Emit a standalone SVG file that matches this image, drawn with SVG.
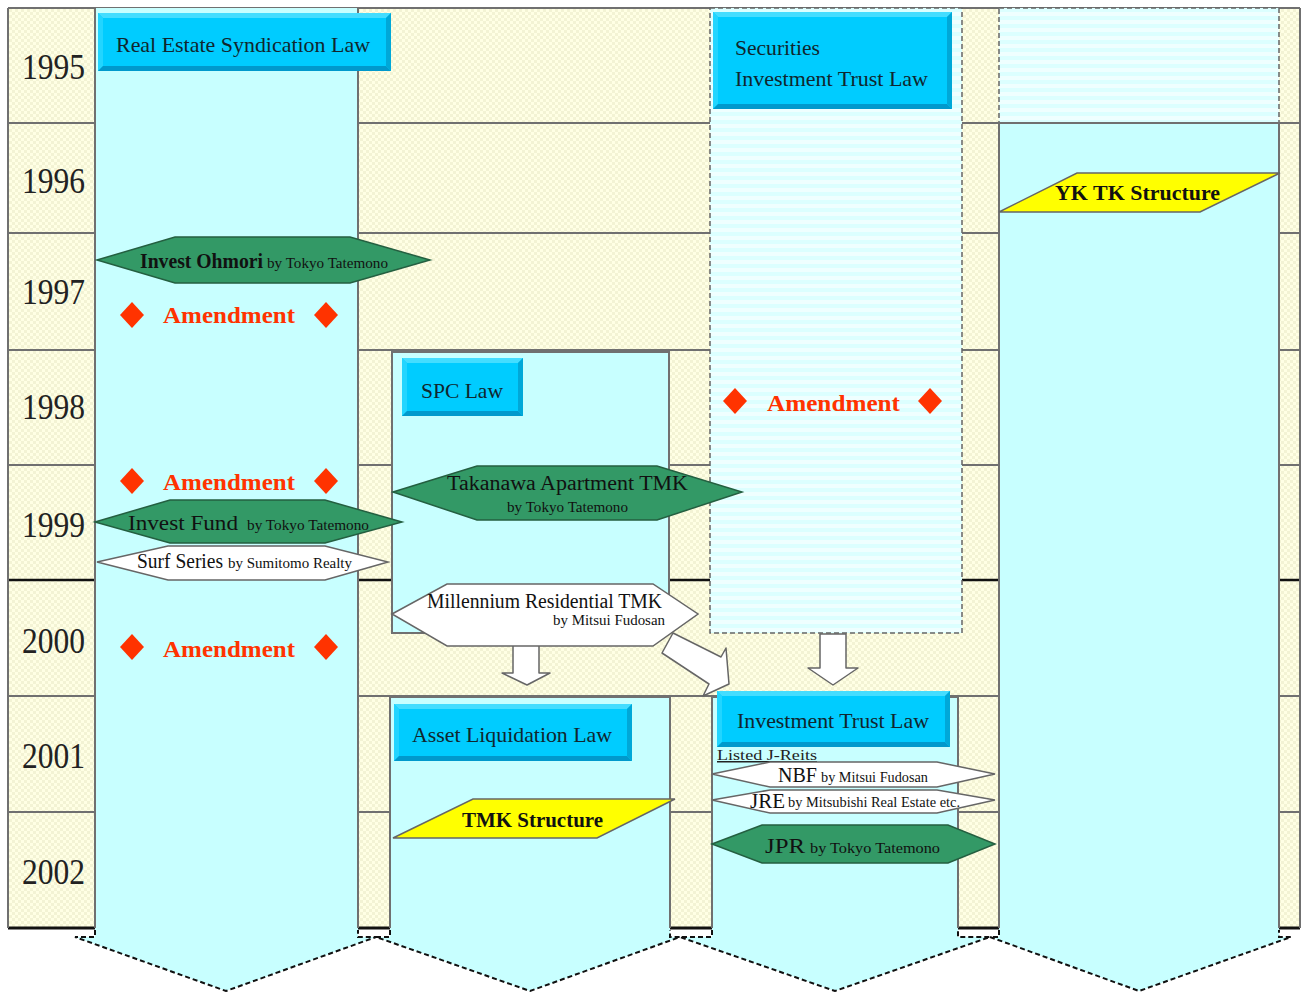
<svg xmlns="http://www.w3.org/2000/svg" width="1302" height="992" viewBox="0 0 1302 992">
<defs>
<pattern id="cream" width="6" height="6" patternUnits="userSpaceOnUse"><rect width="6" height="6" fill="#FFFFE4"/><rect width="3" height="3" fill="#F3F3D4"/><rect x="3" y="3" width="3" height="3" fill="#F3F3D4"/></pattern>
<pattern id="stripes" width="8" height="8" patternUnits="userSpaceOnUse"><rect width="8" height="8" fill="#EFFFFF"/><rect width="8" height="4" fill="#DCFFFF"/></pattern>
<style>
text{font-family:"Liberation Serif","Times New Roman",serif}
.yr{font-size:36px;fill:#222}
.law{font-size:22px;fill:#10262e}
.hx{font-size:20px;fill:#111}
.by{font-size:14px;fill:#111}
.amd{font-size:23px;font-weight:bold;fill:#FF3300}
.st{font-size:21px;font-weight:bold;fill:#111}
.row{stroke:#707070;stroke-width:2}
.col{fill:#C8FFFF}
.edge{stroke:#707070;stroke-width:2;fill:none}
.head{stroke:#111;stroke-width:2;stroke-dasharray:5 3;fill:none}
.dash{fill:url(#stripes);stroke:#666;stroke-width:1.5;stroke-dasharray:5 3}
.bm{fill:#00CCFF}
.bt{fill:#44DDFF}
.bl{fill:#22D5FF}
.bb{fill:#0099CC}
.br{fill:#00A8D8}
.green{fill:#339966;stroke:#245f40;stroke-width:1.5}
.white{fill:#FFFFFF;stroke:#666;stroke-width:1.5}
.yel{fill:#FFFF00;stroke:#666;stroke-width:1.5}
.dia{fill:#FF3300}
.blk{fill:#FFFFFF;stroke:#666;stroke-width:1.5;stroke-linejoin:round}
</style>
</defs>
<rect width="1302" height="992" fill="#FFFFFF"/>
<g id="table">
<rect x="8" y="8" width="1292" height="920" fill="url(#cream)"/>
<line class="row" x1="8" y1="8" x2="1300" y2="8"/>
<line class="row" x1="8" y1="123" x2="1300" y2="123"/>
<line class="row" x1="8" y1="233" x2="1300" y2="233"/>
<line class="row" x1="8" y1="350" x2="1300" y2="350"/>
<line class="row" x1="8" y1="465" x2="1300" y2="465"/>
<line x1="8" y1="580" x2="1300" y2="580" stroke="#111" stroke-width="2.5"/>
<line class="row" x1="8" y1="696" x2="1300" y2="696"/>
<line class="row" x1="8" y1="812" x2="1300" y2="812"/>
<line x1="8" y1="928" x2="1300" y2="928" stroke="#111" stroke-width="3"/>
<line class="row" x1="8" y1="8" x2="8" y2="928"/>
<line class="row" x1="1300" y1="8" x2="1300" y2="928"/>
<text class="yr" x="22" y="79" textLength="63" lengthAdjust="spacingAndGlyphs">1995</text>
<text class="yr" x="22" y="193" textLength="63" lengthAdjust="spacingAndGlyphs">1996</text>
<text class="yr" x="22" y="304" textLength="63" lengthAdjust="spacingAndGlyphs">1997</text>
<text class="yr" x="22" y="419" textLength="63" lengthAdjust="spacingAndGlyphs">1998</text>
<text class="yr" x="22" y="537" textLength="63" lengthAdjust="spacingAndGlyphs">1999</text>
<text class="yr" x="22" y="653" textLength="63" lengthAdjust="spacingAndGlyphs">2000</text>
<text class="yr" x="22" y="768" textLength="63" lengthAdjust="spacingAndGlyphs">2001</text>
<text class="yr" x="22" y="884" textLength="63" lengthAdjust="spacingAndGlyphs">2002</text>
</g>
<g id="col-real-estate-syndication">
<path class="col" d="M95,8 L358,8 L358,937 L376,937 L226,991 L75,937 L95,937 Z"/>
<path class="edge" d="M95,8 L95,928 M358,8 L358,928"/>
<path class="head" d="M95,930 L95,937 L75,937 L226,991 L376,937 L358,937 L358,930"/>
</g>
<g id="col-spc">
<rect x="392" y="352" width="277" height="281" class="col" stroke="#707070" stroke-width="2"/>
</g>
<g id="col-asset-liquidation">
<path class="col" d="M390,697 L670,697 L670,937 L680,937 L530,991 L376,937 L390,937 Z"/>
<path class="edge" d="M390,928 L390,697 L670,697 L670,928"/>
<path class="head" d="M390,930 L390,937 L376,937 L530,991 L680,937 L670,937 L670,930"/>
</g>
<g id="col-securities-investment-trust">
<rect x="710" y="8" width="252" height="625" class="dash"/>
</g>
<g id="col-investment-trust">
<path class="col" d="M712,697 L958,697 L958,937 L990,937 L835,991 L680,937 L712,937 Z"/>
<path class="edge" d="M712,928 L712,697 L958,697 L958,928"/>
<path class="head" d="M712,930 L712,937 L680,937 L835,991 L990,937 L958,937 L958,930"/>
</g>
<g id="col-yk-tk">
<rect x="999" y="8" width="280" height="115" class="dash"/>
<path class="col" d="M999,123 L1279,123 L1279,937 L1291,937 L1139,991 L990,937 L999,937 Z"/>
<path class="edge" d="M999,928 L999,123 L1279,123 L1279,928"/>
<path class="head" d="M999,930 L999,937 L990,937 L1139,991 L1291,937 L1279,937 L1279,930"/>
</g>
<g id="connectors">
<polygon class="blk" points="513,640 539,640 539,673 550,673 527,685 502,673 513,673"/>
<polygon class="blk" points="662,653 673,633 721,657 726,648 729,684 703,696 709,684"/>
<polygon class="blk" points="820,634 846,634 846,668 858,668 833,685 808,668 820,668"/>
</g>
<g id="law-real-estate-syndication">
<rect class="bm" x="98" y="13" width="293" height="58"/>
<polygon class="bt" points="98,13 391,13 386,18 103,18"/>
<polygon class="bl" points="98,13 103,18 103,66 98,71"/>
<polygon class="bb" points="98,71 103,66 386,66 391,71"/>
<polygon class="br" points="391,13 391,71 386,66 386,18"/>
<text class="law" x="116" y="52" textLength="254" lengthAdjust="spacingAndGlyphs">Real Estate Syndication Law</text>
</g>
<g id="law-securities-investment-trust">
<rect class="bm" x="713" y="12" width="239" height="97"/>
<polygon class="bt" points="713,12 952,12 947,17 718,17"/>
<polygon class="bl" points="713,12 718,17 718,104 713,109"/>
<polygon class="bb" points="713,109 718,104 947,104 952,109"/>
<polygon class="br" points="952,12 952,109 947,104 947,17"/>
<text class="law" x="735" y="55" textLength="85" lengthAdjust="spacingAndGlyphs">Securities</text>
<text class="law" x="735" y="86" textLength="193" lengthAdjust="spacingAndGlyphs">Investment Trust Law</text>
</g>
<g id="law-spc">
<rect class="bm" x="402" y="358" width="121" height="58"/>
<polygon class="bt" points="402,358 523,358 518,363 407,363"/>
<polygon class="bl" points="402,358 407,363 407,411 402,416"/>
<polygon class="bb" points="402,416 407,411 518,411 523,416"/>
<polygon class="br" points="523,358 523,416 518,411 518,363"/>
<text class="law" x="421" y="398" textLength="82" lengthAdjust="spacingAndGlyphs">SPC Law</text>
</g>
<g id="law-asset-liquidation">
<rect class="bm" x="394" y="704" width="238" height="57"/>
<polygon class="bt" points="394,704 632,704 627,709 399,709"/>
<polygon class="bl" points="394,704 399,709 399,756 394,761"/>
<polygon class="bb" points="394,761 399,756 627,756 632,761"/>
<polygon class="br" points="632,704 632,761 627,756 627,709"/>
<text class="law" x="412" y="742" textLength="200" lengthAdjust="spacingAndGlyphs">Asset Liquidation Law</text>
</g>
<g id="law-investment-trust">
<rect class="bm" x="717" y="691" width="233" height="56"/>
<polygon class="bt" points="717,691 950,691 945,696 722,696"/>
<polygon class="bl" points="717,691 722,696 722,742 717,747"/>
<polygon class="bb" points="717,747 722,742 945,742 950,747"/>
<polygon class="br" points="950,691 950,747 945,742 945,696"/>
<text class="law" x="737" y="728" textLength="192" lengthAdjust="spacingAndGlyphs">Investment Trust Law</text>
</g>
<g id="amendment-1997">
<polygon class="dia" points="132,302 144,315 132,328 120,315"/>
<text class="amd" x="163" y="323" textLength="132" lengthAdjust="spacingAndGlyphs">Amendment</text>
<polygon class="dia" points="326,302 338,315 326,328 314,315"/>
</g>
<g id="amendment-1999">
<polygon class="dia" points="132,468 144,481 132,494 120,481"/>
<text class="amd" x="163" y="490" textLength="132" lengthAdjust="spacingAndGlyphs">Amendment</text>
<polygon class="dia" points="326,468 338,481 326,494 314,481"/>
</g>
<g id="amendment-2000">
<polygon class="dia" points="132,634 144,647 132,660 120,647"/>
<text class="amd" x="163" y="657" textLength="132" lengthAdjust="spacingAndGlyphs">Amendment</text>
<polygon class="dia" points="326,634 338,647 326,660 314,647"/>
</g>
<g id="amendment-1998">
<polygon class="dia" points="735,388 747,401 735,414 723,401"/>
<text class="amd" x="767" y="411" textLength="133" lengthAdjust="spacingAndGlyphs">Amendment</text>
<polygon class="dia" points="930,388 942,401 930,414 918,401"/>
</g>
<g id="invest-ohmori">
<polygon class="green" points="97,260 175,237 350,237 430,260 350,283 175,283"/>
<text class="hx" x="140" y="268" textLength="123" lengthAdjust="spacingAndGlyphs" font-weight="bold">Invest Ohmori</text>
<text class="by" x="267" y="268" textLength="121" lengthAdjust="spacingAndGlyphs">by Tokyo Tatemono</text>
</g>
<g id="takanawa">
<polygon class="green" points="393,492 477,466 657,466 742,492 657,520 477,520"/>
<text class="hx" x="447" y="490" textLength="241" lengthAdjust="spacingAndGlyphs">Takanawa Apartment TMK</text>
<text class="by" x="507" y="512" textLength="121" lengthAdjust="spacingAndGlyphs">by Tokyo Tatemono</text>
</g>
<g id="invest-fund">
<polygon class="green" points="95,522 170,500 325,500 402,522 325,543 170,543"/>
<text class="hx" x="128" y="530" textLength="110" lengthAdjust="spacingAndGlyphs" font-size="22">Invest Fund</text>
<text class="by" x="247" y="530" textLength="122" lengthAdjust="spacingAndGlyphs">by Tokyo Tatemono</text>
</g>
<g id="surf-series">
<polygon class="white" points="97,562 168,546 325,546 388,562 325,580 168,580"/>
<text class="hx" x="137" y="568" textLength="86" lengthAdjust="spacingAndGlyphs">Surf Series</text>
<text class="by" x="228" y="568" textLength="124" lengthAdjust="spacingAndGlyphs">by Sumitomo Realty</text>
</g>
<g id="millennium">
<polygon class="white" points="392,614 447,584 653,584 698,614 653,646 447,646"/>
<text class="hx" x="427" y="608" textLength="235" lengthAdjust="spacingAndGlyphs">Millennium Residential TMK</text>
<text class="by" x="553" y="625" textLength="112" lengthAdjust="spacingAndGlyphs">by Mitsui Fudosan</text>
</g>
<g id="yk-tk-structure">
<polygon class="yel" points="999,212 1077,173 1280,173 1200,212"/>
<text class="st" x="1055" y="200" textLength="165" lengthAdjust="spacingAndGlyphs">YK TK Structure</text>
</g>
<g id="tmk-structure">
<polygon class="yel" points="393,838 473,799 675,799 597,838"/>
<text class="st" x="462" y="827" textLength="141" lengthAdjust="spacingAndGlyphs">TMK Structure</text>
</g>
<g id="listed-j-reits">
<text x="717" y="760" font-size="15" fill="#222" text-decoration="underline" textLength="100" lengthAdjust="spacingAndGlyphs">Listed J-Reits</text>
</g>
<g id="nbf">
<polygon class="white" points="712,774 770,762 937,762 995,774 937,787 770,787"/>
<text class="hx" x="778" y="782" textLength="39" lengthAdjust="spacingAndGlyphs">NBF</text>
<text class="by" x="821" y="782" textLength="107" lengthAdjust="spacingAndGlyphs">by Mitsui Fudosan</text>
</g>
<g id="jre">
<polygon class="white" points="712,800 770,790 937,790 995,800 937,813 770,813"/>
<text class="hx" x="750" y="808" textLength="35" lengthAdjust="spacingAndGlyphs">JRE</text>
<text class="by" x="788" y="807" textLength="172" lengthAdjust="spacingAndGlyphs">by Mitsubishi Real Estate etc.</text>
</g>
<g id="jpr">
<polygon class="green" points="712,844 762,825 948,825 995,844 948,863 762,863"/>
<text class="hx" x="765" y="853" textLength="40" lengthAdjust="spacingAndGlyphs" font-size="22">JPR</text>
<text class="by" x="810" y="853" textLength="130" lengthAdjust="spacingAndGlyphs">by Tokyo Tatemono</text>
</g>
</svg>
